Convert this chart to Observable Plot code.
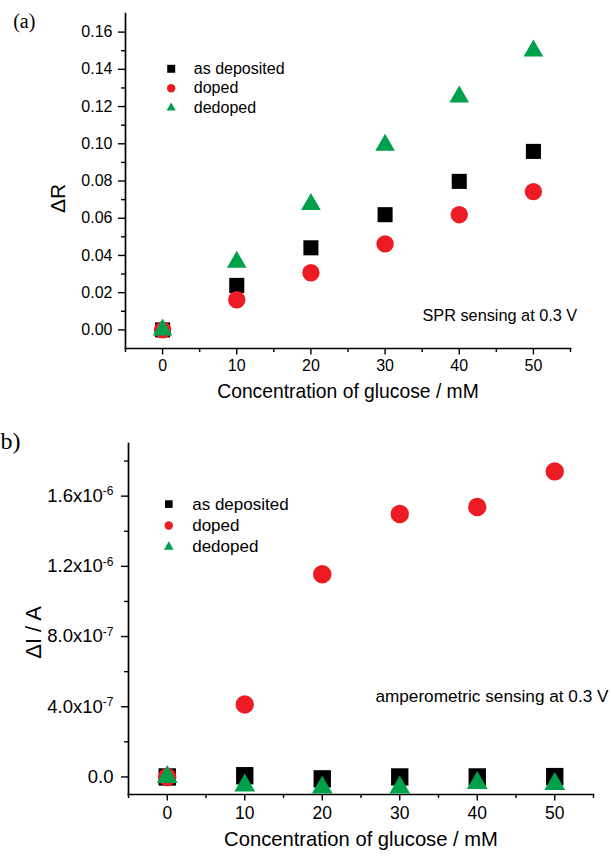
<!DOCTYPE html>
<html><head><meta charset="utf-8">
<script src="https://cdn.jsdelivr.net/npm/d3@7"></script>
<script src="https://cdn.jsdelivr.net/npm/@observablehq/plot@0.6"></script>
<style>
body{margin:0;background:#fff;overflow:hidden;}
#chart{width:611px;height:857px;position:relative;}
#chart svg{display:block;}
</style>
</head><body><div id="chart"></div>
<script>
// ---------- data ----------
const concentration = [0, 10, 20, 30, 40, 50];
const series = ["as deposited", "doped", "dedoped"];
const colors = ["#000000", "#ed1c24", "#00a14b"];
const symbols = ["square", "circle", "triangle"];

const sprAsDeposited = [0.000, 0.0239, 0.0441, 0.0619, 0.0798, 0.0959];
const sprDoped       = [0.000, 0.0162, 0.0307, 0.0462, 0.0619, 0.0743];
const sprDedoped     = [0.000, 0.0364, 0.0675, 0.0993, 0.1252, 0.1499];

const ampAsDeposited = [0, 0.7e-8, -1.1e-8, 0, 0, 0.2e-8];
const ampDoped       = [0, 4.13e-7, 1.155e-6, 1.498e-6, 1.538e-6, 1.741e-6];
const ampDedoped     = [0, -4.9e-8, -6.0e-8, -6.0e-8, -3.4e-8, -4.0e-8];

const xTicks = [0, 10, 20, 30, 40, 50];
const xMinorTicks = [-5, 5, 15, 25, 35, 45, 55];
const sprTicks = [0, 0.02, 0.04, 0.06, 0.08, 0.10, 0.12, 0.14, 0.16];
const sprTickLabels = ["0.00", "0.02", "0.04", "0.06", "0.08", "0.10", "0.12", "0.14", "0.16"];
const sprMinorTicks = [0.01, 0.03, 0.05, 0.07, 0.09, 0.11, 0.13, 0.15];
const ampTicks = [0, 4e-7, 8e-7, 1.2e-6, 1.6e-6];
const ampTickLabels = ["0.0", "4.0x10^-7", "8.0x10^-7", "1.2x10^-6", "1.6x10^-6"];
const ampMinorTicks = [2e-7, 6e-7, 1e-6, 1.4e-6, 1.8e-6];

const xLabel = "Concentration of glucose / mM";
const sprYLabel = "ΔR";
const ampYLabel = "ΔI / A";
const sprNote = "SPR sensing at 0.3 V";
const ampNote = "amperometric sensing at 0.3 V";
const panelA = "(a)";
const panelB = "(b)";

const FONT = "'Liberation Sans', Arial, Helvetica, sans-serif";
const SERIF = "'Liberation Serif', 'Times New Roman', serif";

function rows(vals) { return concentration.map((c, i) => ({x: c, y: vals[i]})); }

function panel(cfg) {
  const marks = [];
  // axis lines
  marks.push(Plot.frame({anchor: "left", stroke: "black", strokeWidth: 1.7}));
  marks.push(Plot.frame({anchor: "bottom", stroke: "black", strokeWidth: 1.7}));
  // y axis
  marks.push(Plot.axisY({ticks: cfg.yTicks, tickFormat: d => cfg.yTickLabels[cfg.yTicks.indexOf(d)],
    tickSize: 7, tickPadding: cfg.yPad, fontSize: cfg.yTickFont, strokeWidth: 1.4, label: null, fontFamily: FONT}));
  marks.push(Plot.axisY({ticks: cfg.yMinor, tickFormat: () => "", tickSize: 4, strokeWidth: 1.4, label: null}));
  // x axis
  marks.push(Plot.axisX({ticks: xTicks, tickFormat: d => String(d), tickSize: 6.5, tickPadding: cfg.xPad,
    fontSize: cfg.tickFont, strokeWidth: 1.4, label: null, fontFamily: FONT}));
  marks.push(Plot.axisX({ticks: xMinorTicks, tickFormat: () => "", tickSize: 4, strokeWidth: 1.4, label: null}));
  // data
  cfg.data.forEach((vals, i) => {
    marks.push(Plot.dot(rows(vals), {x: "x", y: "y", symbol: symbols[i], fill: colors[i], stroke: "none", r: cfg.r[i]}));
  });
  // legend
  series.forEach((s, i) => {
    marks.push(Plot.dot([s], {frameAnchor: "top-left", dx: cfg.legX, dy: cfg.legY + i * cfg.legStep,
      symbol: symbols[i], fill: colors[i], stroke: "none", r: cfg.legR[i]}));
    marks.push(Plot.text([s], {text: d => d, frameAnchor: "top-left", dx: cfg.legTX, dy: cfg.legY + i * cfg.legStep,
      textAnchor: "start", lineAnchor: "middle", fontSize: cfg.legFont, fontFamily: FONT, fill: "black"}));
  });
  // note
  marks.push(Plot.text([cfg.note], {text: d => d, ...cfg.noteOpts, fontSize: cfg.noteFont, fontFamily: FONT, fill: "black"}));
  // axis labels
  marks.push(Plot.text([xLabel], {text: d => d, frameAnchor: "bottom", dy: cfg.xLabDy, lineAnchor: "bottom",
    fontSize: cfg.xLabFont, fontFamily: FONT, fill: "black"}));
  marks.push(Plot.text([cfg.yLabel], {text: d => d, frameAnchor: "left", dx: cfg.yLabDx, dy: cfg.yLabDy, rotate: -90,
    textAnchor: "middle", lineAnchor: "middle", fontSize: cfg.yLabFont, fontFamily: FONT, fill: "black"}));
  // panel tag
  marks.push(Plot.text([cfg.tag], {text: d => d, frameAnchor: "top-left", dx: cfg.tagDx, dy: cfg.tagDy,
    textAnchor: "start", lineAnchor: "bottom", fontSize: cfg.tagFont, fontFamily: SERIF, fill: "black"}));

  return Plot.plot({
    width: 611, height: cfg.height,
    marginLeft: cfg.ml, marginRight: cfg.mr, marginTop: cfg.mt, marginBottom: cfg.mb,
    x: {domain: [-5, 55]},
    y: {domain: cfg.yDomain},
    style: {fontFamily: FONT, color: "black", background: "white", overflow: "visible"},
    marks
  });
}

const svgA = panel({
  height: 415, ml: 125, mr: 41, mt: 13, mb: 67,
  yDomain: [-0.01, 0.17], yTicks: sprTicks, yTickLabels: sprTickLabels, yMinor: sprMinorTicks,
  tickFont: 16, yTickFont: 16, yPad: 6, xPad: 5,
  data: [sprAsDeposited, sprDoped, sprDedoped], r: [8.5, 8.7, 7.3],
  legX: 45.7, legY: 55.3, legStep: 19.5, legTX: 68.3, legR: [4.5, 4.2, 3.4], legFont: 16,
  note: sprNote, noteOpts: {frameAnchor: "bottom-right", dx: 6.7, dy: -28, textAnchor: "end", lineAnchor: "bottom"}, noteFont: 16.3,
  xLabDy: 49.7, xLabFont: 19.3,
  yLabel: sprYLabel, yLabDx: -67.5, yLabDy: 17.5, yLabFont: 21,
  tag: panelA, tagDx: -112.3, tagDy: 14, tagFont: 20
});

const svgB = panel({
  height: 442, ml: 128, mr: 18, mt: 28, mb: 63,
  yDomain: [-1e-7, 1.9e-6], yTicks: ampTicks, yTickLabels: ampTickLabels, yMinor: ampMinorTicks,
  tickFont: 17.5, yTickFont: 18.5, yPad: 8, xPad: 6,
  data: [ampAsDeposited, ampDoped, ampDedoped], r: [9.8, 9.2, 7.7],
  legX: 40.3, legY: 60.6, legStep: 21.4, legTX: 63.7, legR: [4.3, 4.2, 3.6], legFont: 17,
  note: ampNote, noteOpts: {frameAnchor: "top-right", dx: 15, dy: 258.3, textAnchor: "end", lineAnchor: "bottom"}, noteFont: 17.2,
  xLabDy: 51.5, xLabFont: 20.2,
  yLabel: ampYLabel, yLabDx: -95, yLabDy: 13.5, yLabFont: 22,
  tag: panelB, tagDx: -136, tagDy: 5.3, tagFont: 24
});

// superscripts for exponent tick labels
svgB.querySelectorAll("text").forEach(t => {
  const s = t.textContent;
  if (s.includes("^")) {
    const [base, exp] = s.split("^");
    t.textContent = base;
    const ts = document.createElementNS("http://www.w3.org/2000/svg", "tspan");
    ts.setAttribute("dy", "-0.55em");
    ts.setAttribute("font-size", "0.65em");
    ts.textContent = exp;
    t.appendChild(ts);
  }
});

const chart = document.getElementById("chart");
chart.appendChild(svgA);
chart.appendChild(svgB);
</script>
</body></html>
